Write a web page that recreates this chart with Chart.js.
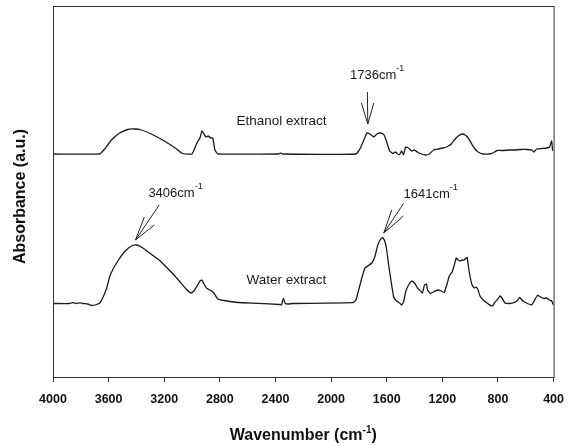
<!DOCTYPE html>
<html>
<head>
<meta charset="utf-8">
<script src="https://cdn.jsdelivr.net/npm/chart.js@4/dist/chart.umd.min.js"></script>
<style>
  html, body { margin: 0; padding: 0; background: #fff; }
  #wrap { width: 574px; height: 446px; position: relative; }
</style>
</head>
<body>
<div id="wrap"><canvas id="ftir"></canvas></div>
<script>
// FTIR spectra, x = wavenumber (cm-1), y = absorbance (arbitrary units)
const xTicks = [4000, 3600, 3200, 2800, 2400, 2000, 1600, 1200, 800, 400];

const ethanolWn = [4000, 3664, 3629, 3579, 3521, 3464, 3414, 3364, 3293, 3200, 3121, 3071, 3000, 2971, 2957, 2943, 2929, 2914, 2900, 2886, 2864, 2850, 2836, 2814, 2379, 2364, 2350, 1821, 1793, 1764, 1743, 1721, 1693, 1671, 1643, 1621, 1600, 1579, 1557, 1536, 1521, 1507, 1493, 1479, 1464, 1443, 1421, 1400, 1379, 1350, 1321, 1293, 1264, 1229, 1200, 1179, 1157, 1136, 1114, 1086, 1057, 1036, 1014, 993, 971, 943, 907, 864, 836, 807, 764, 721, 679, 636, 593, 557, 543, 521, 486, 450, 429, 414, 407, 400];
const ethanolAbs = [223, 223, 228, 237, 244, 247.5, 248, 247, 243, 236, 229, 223.5, 223, 232, 236, 239, 246, 243, 240, 241, 239, 239, 227, 223, 223, 224, 223, 223, 228, 237, 244, 243, 240, 243, 244, 242.5, 235, 226, 223.5, 225, 223, 222.5, 226, 222.5, 230, 229, 226, 227, 225, 223, 222, 223, 227, 228, 229, 229.5, 231, 233, 237, 241, 243, 242, 239, 234, 229, 225, 223, 223, 224, 226.5, 226.5, 227, 227, 227.5, 227.5, 227, 225, 228, 228.5, 229, 230, 236, 227, 226];

const waterWn = [4000, 3879, 3857, 3836, 3807, 3786, 3750, 3721, 3686, 3664, 3636, 3614, 3593, 3564, 3529, 3493, 3457, 3429, 3400, 3371, 3329, 3286, 3236, 3186, 3136, 3086, 3043, 3007, 2986, 2964, 2943, 2929, 2914, 2893, 2864, 2843, 2814, 2771, 2664, 2521, 2371, 2357, 2343, 2329, 2307, 2279, 1843, 1821, 1800, 1779, 1757, 1736, 1707, 1686, 1664, 1643, 1629, 1614, 1600, 1586, 1571, 1550, 1529, 1507, 1493, 1479, 1464, 1443, 1421, 1400, 1379, 1357, 1343, 1329, 1314, 1307, 1286, 1264, 1236, 1207, 1186, 1164, 1150, 1129, 1114, 1100, 1086, 1071, 1057, 1043, 1029, 1021, 1014, 1000, 986, 971, 957, 943, 929, 907, 879, 850, 836, 821, 800, 786, 771, 750, 721, 693, 664, 643, 621, 600, 579, 557, 536, 514, 493, 471, 450, 429, 414, 400];
const waterAbs = [73.5, 73.5, 74.5, 73.5, 74.2, 73.5, 73, 71.5, 72.5, 74, 81, 89, 100, 109, 117, 124, 129, 131.5, 132, 130.5, 126.5, 122, 117, 110, 103, 95, 88, 84, 86, 91, 96, 97, 93, 88.5, 86.5, 84, 78, 76.5, 74.5, 73.7, 72.5, 72, 78.5, 73.5, 73, 73.5, 74.3, 77, 88, 99, 109, 111, 114, 120, 132, 138, 139.5, 136, 127, 112, 98, 80, 76, 74, 72, 75, 85, 92, 96, 94, 89, 86, 84, 92, 93, 87, 83.5, 85, 87, 86, 84.5, 94, 101, 105, 112, 119, 117, 116, 117, 117, 119, 119.5, 112, 100, 92, 89, 90, 87, 81, 77, 74, 71, 71.5, 75, 78, 81, 79, 74, 73.5, 74, 76, 79.5, 76, 74.5, 73, 72, 77, 82, 80, 78.5, 79, 77, 76, 72];

// text labels and arrows, in data coordinates
const labels = [
  { text: 'Ethanol extract', wn: 2357, abs: 256, align: 'center' },
  { text: 'Water extract', wn: 2321, abs: 97, align: 'center' }
];
const peakNotes = [
  { text: '1736cm', wn: 1864, abs: 302, from: [1739, 285], tip: [1736, 253], barbs: [[1782, 274], [1693, 274]] },
  { text: '3406cm', wn: 3314, abs: 184, from: [3236, 172], tip: [3407, 137], barbs: [[3343, 160], [3271, 152]] },
  { text: '1641cm', wn: 1479, abs: 183, from: [1479, 173.5], tip: [1621, 144], barbs: [[1564, 167], [1479, 161]] }
];

const toPoints = (xs, ys) => xs.map((x, i) => ({ x: x, y: ys[i] }));

const annotatePlugin = {
  id: 'annotate',
  afterDraw(chart) {
    const ctx = chart.ctx;
    const xs = chart.scales.x, ys = chart.scales.y;
    const a = chart.chartArea;
    ctx.save();
    // frame
    ctx.strokeStyle = '#333';
    ctx.lineWidth = 1;
    ctx.strokeRect(a.left + 0.5, a.top + 0.5, a.right - a.left, a.bottom - a.top);

    ctx.fillStyle = '#1a1a1a';
    ctx.textBaseline = 'middle';
    ctx.font = '13.5px "Liberation Sans", Arial, sans-serif';
    labels.forEach(l => {
      ctx.textAlign = l.align;
      ctx.fillText(l.text, xs.getPixelForValue(l.wn), ys.getPixelForValue(l.abs));
    });

    peakNotes.forEach(n => {
      const px = xs.getPixelForValue(n.wn), py = ys.getPixelForValue(n.abs);
      ctx.textAlign = 'left';
      ctx.font = '13px "Liberation Sans", Arial, sans-serif';
      ctx.fillText(n.text, px, py);
      const w = ctx.measureText(n.text).width;
      ctx.font = '9px "Liberation Sans", Arial, sans-serif';
      ctx.fillText('-1', px + w, py - 6);

      const tx = xs.getPixelForValue(n.tip[0]), ty = ys.getPixelForValue(n.tip[1]);
      ctx.strokeStyle = '#222';
      ctx.lineWidth = 1;
      ctx.beginPath();
      ctx.moveTo(xs.getPixelForValue(n.from[0]), ys.getPixelForValue(n.from[1]));
      ctx.lineTo(tx, ty);
      n.barbs.forEach(b => {
        ctx.moveTo(xs.getPixelForValue(b[0]), ys.getPixelForValue(b[1]));
        ctx.lineTo(tx, ty);
      });
      ctx.stroke();
    });

    // axis titles
    ctx.fillStyle = '#111';
    ctx.font = 'bold 16px "Liberation Sans", Arial, sans-serif';
    const title = 'Wavenumber (cm';
    const tw = ctx.measureText(title).width;
    ctx.font = 'bold 10px "Liberation Sans", Arial, sans-serif';
    const sw = ctx.measureText('-1').width;
    ctx.font = 'bold 16px "Liberation Sans", Arial, sans-serif';
    const cw = ctx.measureText(')').width;
    const tx0 = (a.left + a.right) / 2 - (tw + sw + cw) / 2;
    const ty0 = 436;
    ctx.textAlign = 'left';
    ctx.fillText(title, tx0, ty0);
    ctx.fillText(')', tx0 + tw + sw, ty0);
    ctx.font = 'bold 10px "Liberation Sans", Arial, sans-serif';
    ctx.fillText('-1', tx0 + tw, ty0 - 6);

    ctx.translate(21, (a.top + a.bottom) / 2 + 5);
    ctx.rotate(-Math.PI / 2);
    ctx.textAlign = 'center';
    ctx.font = 'bold 16px "Liberation Sans", Arial, sans-serif';
    ctx.fillText('Absorbance (a.u.)', 0, 0);
    ctx.restore();
  }
};

new Chart(document.getElementById('ftir'), {
  type: 'line',
  data: {
    datasets: [
      {
        label: 'Ethanol extract',
        data: toPoints(ethanolWn, ethanolAbs),
        borderColor: '#1a1a1a',
        borderWidth: 1.3,
        pointRadius: 0,
        tension: 0.1
      },
      {
        label: 'Water extract',
        data: toPoints(waterWn, waterAbs),
        borderColor: '#1a1a1a',
        borderWidth: 1.3,
        pointRadius: 0,
        tension: 0.1
      }
    ]
  },
  options: {
    responsive: true,
    maintainAspectRatio: false,
    animation: false,
    layout: { padding: { left: 0, top: 6, right: 17, bottom: 0 } },
    plugins: { legend: { display: false }, tooltip: { enabled: false } },
    scales: {
      x: {
        type: 'linear',
        reverse: true,
        min: 400,
        max: 4000,
        afterBuildTicks: scale => { scale.ticks = xTicks.map(v => ({ value: v })); },
        afterFit: scale => { scale.height = 69; },
        border: { display: false },
        grid: { drawOnChartArea: false, tickLength: 5, color: '#333', tickWidth: 1 },
        ticks: {
          color: '#111',
          padding: 10,
          maxRotation: 0,
          autoSkip: false,
          callback: v => String(v),
          font: { family: '"Liberation Sans", Arial, sans-serif', size: 12.5, weight: 'bold' }
        }
      },
      y: {
        type: 'linear',
        min: 0,
        max: 371,
        afterFit: scale => { scale.width = 53; },
        border: { display: false },
        grid: { display: false },
        ticks: { display: false }
      }
    }
  },
  plugins: [annotatePlugin]
});
</script>
</body>
</html>
